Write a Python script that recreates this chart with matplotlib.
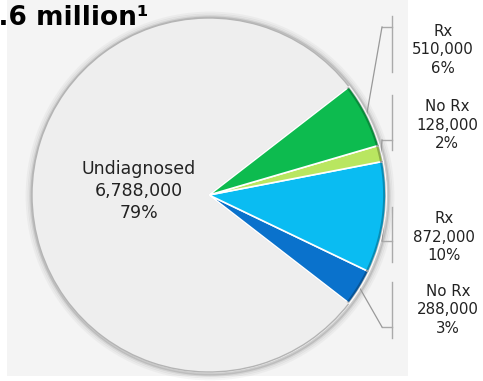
import numpy as np
import matplotlib.pyplot as plt
from matplotlib.patches import Rectangle, Circle

# prevalence breakdown (people)
groups = ["Undiagnosed", "No Rx", "Rx", "No Rx", "Rx"]
counts = [6788000, 288000, 872000, 128000, 510000]
pct_labels = ["79%", "3%", "10%", "2%", "6%"]
colors = ["#eeeeee", "#0a72cc", "#0abcf2", "#b9e660", "#0dbb4f"]
title = "8.6 million\u00b9"

W, H = 483, 381
fig = plt.figure(figsize=(W / 100, H / 100), dpi=100)
ax = fig.add_axes([0, 0, 1, 1])

# pixel-like coordinates, y measured from the top
def py(y):
    return H - y

cx, cy, r = 209, py(195), 177

# light panel behind the chart
ax.add_patch(Rectangle((7, py(376)), 401, 376, facecolor="#f4f4f4",
                       edgecolor="none", zorder=0))

# soft shadow ring round the pie
for k, a in zip([6, 4, 2.5, 1.2], [0.05, 0.08, 0.12, 0.25]):
    ax.add_patch(Circle((cx + 1, cy - 1), r + k, facecolor="none",
                        edgecolor="#555555", linewidth=2, alpha=a, zorder=1))

total = sum(counts)
start = 180 - 360 * counts[0] / total / 2
wedges, _ = ax.pie(counts, colors=colors, startangle=start, center=(cx, cy),
                   radius=r, counterclock=True, frame=True,
                   wedgeprops=dict(edgecolor="white", linewidth=1.2))
for w in wedges:
    w.set_zorder(2)
wedges[0].set_edgecolor("#b4b4b4")
wedges[0].set_linewidth(1.0)

# darker rim on the coloured slices
for w in wedges[1:]:
    t1, t2 = w.theta1, w.theta2
    tt = np.radians(np.linspace(t1 + 0.3, t2 - 0.3, 40))
    ax.plot(cx + (r - 1.5) * np.cos(tt), cy + (r - 1.5) * np.sin(tt),
            color="black", alpha=0.25, lw=2, zorder=3)

# centre label for the big slice
ax.text(139, py(191), "%s\n%s\n%s" % (groups[0], f"{counts[0]:,}", pct_labels[0]),
        ha="center", va="center", fontsize=12.5, color="#222222",
        linespacing=1.28, zorder=4)

# right-hand labels with bracket leaders
label_x = [448, 444, 447, 443]
label_y = [310, 237, 125, 50]
brackets = [(282, 338), (207, 262), (95, 150), (16, 72)]
ticks = [327, 241, 140, 27]
for i in range(1, 5):
    w = wedges[i]
    ax.text(label_x[i - 1], py(label_y[i - 1]),
            "%s\n%s\n%s" % (groups[i], f"{counts[i]:,}", pct_labels[i]),
            ha="center", va="center", fontsize=10.8, color="#222222",
            linespacing=1.28, zorder=4)
    y0, y1 = brackets[i - 1]
    ax.plot([392, 392], [py(y0), py(y1)], color="#aaaaaa", lw=1, zorder=1)
    ty = ticks[i - 1]
    ax.plot([382, 392], [py(ty), py(ty)], color="#aaaaaa", lw=1, zorder=1)
    mid = np.radians((w.theta1 + w.theta2) / 2)
    ex, ey = cx + r * np.cos(mid), cy + r * np.sin(mid)
    ax.plot([ex, 382], [ey, py(ty)], color="#999999", lw=0.9, zorder=1)

# headline total, running off the left edge
ax.text(-20, py(25), title, ha="left", va="baseline", fontsize=19,
        fontweight="bold", color="black", zorder=4)

ax.set_xlim(0, W)
ax.set_ylim(0, H)
ax.set_aspect("auto")
ax.axis("off")

plt.savefig("out.png", dpi=100)
